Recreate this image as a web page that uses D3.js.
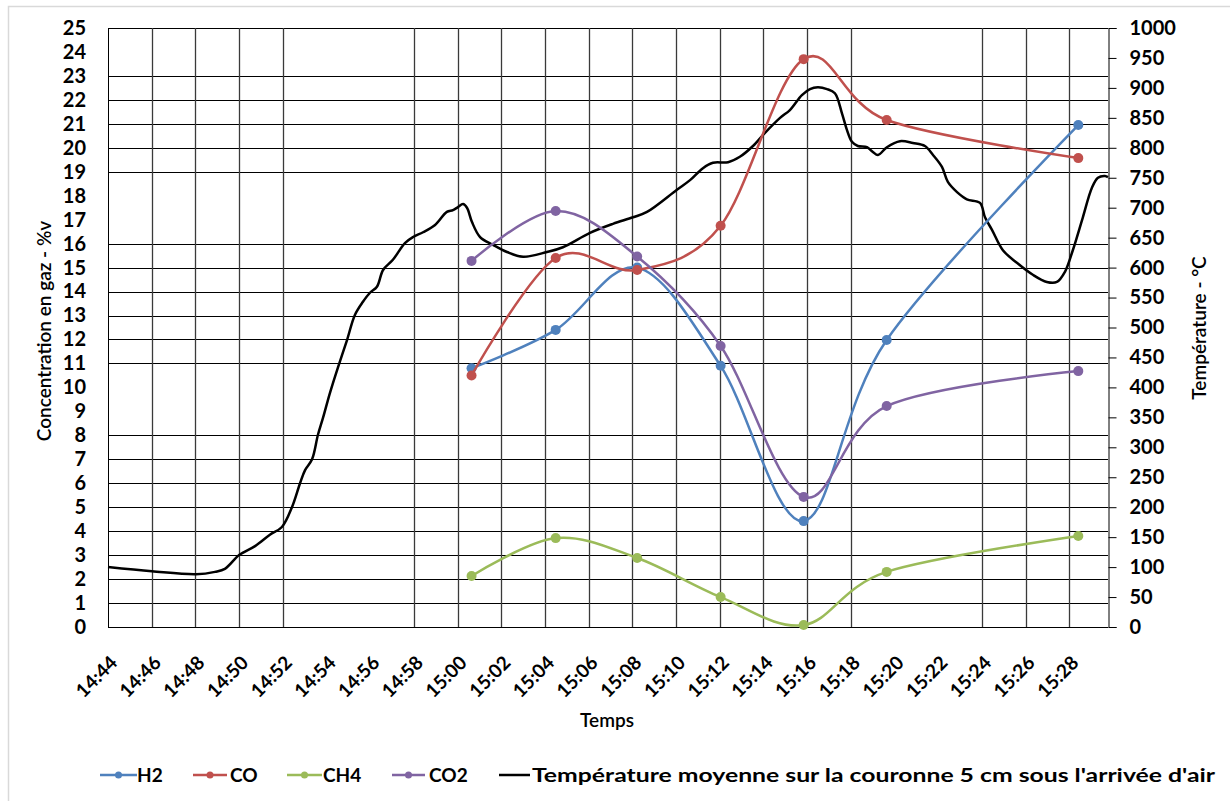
<!DOCTYPE html>
<html><head><meta charset="utf-8">
<script src="https://cdn.jsdelivr.net/npm/d3@7"></script>
<style>
html,body{margin:0;padding:0;background:#fff;}
svg text{font-family:Lato,"Open Sans",sans-serif;}
</style></head>
<body><svg id="c" width="1230" height="801"></svg>
<script>
// ---- data ----
const startTime = "14:44";
const xTickLabels = ["14:44","14:46","14:48","14:50","14:52","14:54","14:56","14:58","15:00","15:02","15:04","15:06","15:08","15:10","15:12","15:14","15:16","15:18","15:20","15:22","15:24","15:26","15:28"];
const xMaxMinutes = 45.77;               // axis end, minutes after 14:44
const vGridMinutes = [2,4,6,8,14,16,18,20,22,24,26,28,30,32,34,40,42,44];
const hGridValues = [1,2,3,4,5,6,7,8,11,12,13,14,15,16,19,20,21,22,23,25];
const leftTicks = d3.range(0,26);
const rightTicks = d3.range(0,1001,50);

// gas samples (minutes after 14:44)
const gasMinutes = [16.64, 20.49, 24.22, 28.04, 31.84, 35.64, 44.41];
const h2  = [10.8, 12.4, 15.0, 10.9, 4.42, 11.98, 20.95];
const co  = [10.5, 15.4, 14.9, 16.75, 23.7, 21.16, 19.57];
const ch4 = [2.13, 3.71, 2.88, 1.25, 0.08, 2.30, 3.80];
const co2 = [15.28, 17.36, 15.46, 11.73, 5.43, 9.22, 10.68];

// temperature (minutes after 14:44, °C)
const tempMinutes = [0,2.01,4.03,4.90,5.35,6.00,6.73,7.41,7.96,8.42,8.79,9.02,9.34,9.61,9.84,10.16,10.53,10.94,11.30,11.67,11.99,12.31,12.59,13.04,13.59,13.96,14.42,14.97,15.51,15.79,16.02,16.25,16.43,16.66,17.03,17.62,18.26,19.00,20.09,20.82,22.06,23.11,24.03,24.67,26.04,26.64,27.23,27.69,28.38,28.92,29.52,30.07,30.76,31.21,31.76,32.13,32.49,32.91,33.27,33.59,33.82,34.05,34.32,34.74,35.01,35.24,35.65,36.25,36.84,37.39,37.76,38.17,38.44,38.86,39.31,39.91,40.14,40.46,40.96,41.60,42.33,42.97,43.43,43.80,44.16,44.62,45.03,45.31,45.63,45.77];
const tempValues = [100,93,88,92,97,120,135,154,167,200,240,262,280,321,349,391,434,479,521,543,558,568,596,613,641,651,659,671,693,696,701,706,700,676,651,638,626,618,626,634,658,673,684,693,730,746,766,775,776,785,803,825,850,863,888,898,901,898,891,858,830,810,803,801,793,788,801,811,808,803,788,768,743,726,714,708,684,663,629,608,588,576,576,593,629,684,733,750,753,751];

const seriesNames = ["H2","CO","CH4","CO2"];
const seriesColors = ["#4F81BD","#C0504D","#9BBB59","#8064A2"];
const tempLabel = "Température moyenne sur la couronne 5 cm sous l'arrivée d'air";

// ---- layout ----
const svg = d3.select("#c");
const L = 108, R = 1108, T = 28, B = 627;
const x = d3.scaleLinear().domain([0, xMaxMinutes]).range([L, R]);
const yL = d3.scaleLinear().domain([0, 25]).range([B, T]);
const yR = d3.scaleLinear().domain([0, 1000]).range([B, T]);

// outer frame
svg.append("rect").attr("x",8.5).attr("y",6.5).attr("width",1240).attr("height",820)
  .attr("fill","none").attr("stroke","#d9d9d9").attr("stroke-width",1.5);

// grid
const g = svg.append("g");
g.selectAll(".hg").data(hGridValues).join("line")
  .attr("x1",L).attr("x2",R)
  .attr("y1",d=>Math.round(yL(d))+0.5).attr("y2",d=>Math.round(yL(d))+0.5)
  .attr("stroke","#000").attr("stroke-width",1);
g.selectAll(".vg").data(vGridMinutes).join("line")
  .attr("x1",d=>Math.round(x(d))+0.5).attr("x2",d=>Math.round(x(d))+0.5)
  .attr("y1",T).attr("y2",B)
  .attr("stroke","#3a3a3a").attr("stroke-width",1.3);

// axes lines
g.append("line").attr("x1",L+0.5).attr("x2",L+0.5).attr("y1",T).attr("y2",B+0.5).attr("stroke","#000");
g.append("line").attr("x1",L).attr("x2",R).attr("y1",B+0.5).attr("y2",B+0.5).attr("stroke","#000");

// left axis labels
const leftAxis = d3.axisLeft(yL).tickValues(leftTicks).tickSize(0).tickPadding(22).tickFormat(d3.format("d"));
const la = svg.append("g").attr("transform",`translate(${L},0)`).call(leftAxis);
la.select(".domain").remove();
la.selectAll("text").attr("font-size",20).attr("font-weight","bold").attr("fill","#000");

// right axis
const rightAxis = d3.axisRight(yR).tickValues(rightTicks).tickSize(8).tickPadding(13).tickFormat(d3.format("d"));
const ra = svg.append("g").attr("transform",`translate(${R+0.5},0)`).call(rightAxis);
ra.select(".domain").attr("stroke","#000");
ra.selectAll(".tick line").attr("stroke","#000");
ra.selectAll("text").attr("font-size",20).attr("font-weight","bold").attr("fill","#000");

// bottom axis labels (rotated)
const xTickVals = xTickLabels.map((d,i)=>i*2);
const bx = d3.axisBottom(x).tickValues(xTickVals).tickSize(0).tickFormat((d,i)=>xTickLabels[i]);
const ba = svg.append("g").attr("transform",`translate(0,${B})`).call(bx);
ba.select(".domain").remove();
ba.selectAll("text").attr("font-size",19).attr("font-weight","bold").attr("fill","#000")
  .attr("text-anchor","end").attr("dy",0).attr("y",0)
  .attr("transform","translate(10,37) rotate(-45)");

// axis titles
svg.append("text").attr("transform","translate(51,331) rotate(-90)").attr("text-anchor","middle")
  .attr("font-size",19).attr("font-weight",600).text("Concentration en gaz - %v");
svg.append("text").attr("transform","translate(1206,328) rotate(-90)").attr("text-anchor","middle")
  .attr("font-size",19).attr("font-weight",600).text("Température - °C");
svg.append("text").attr("x",607).attr("y",727).attr("text-anchor","middle")
  .attr("font-size",19).attr("font-weight",600).text("Temps");

// temperature line
const tData = tempMinutes.map((m,i)=>[m,tempValues[i]]);
svg.append("path").datum(tData)
  .attr("d", d3.line().x(d=>x(d[0])).y(d=>yR(d[1])).curve(d3.curveCatmullRom))
  .attr("fill","none").attr("stroke","#000").attr("stroke-width",2.5);

// gas series
const gasSeries = [h2,co,ch4,co2];
const gasLine = d3.line().x(d=>x(d[0])).y(d=>yL(d[1])).curve(d3.curveCardinal.tension(0));
gasSeries.forEach((vals,si)=>{
  const pts = gasMinutes.map((m,i)=>[m,vals[i]]);
  svg.append("path").datum(pts).attr("d",gasLine)
    .attr("fill","none").attr("stroke",seriesColors[si]).attr("stroke-width",2.5);
  svg.append("g").selectAll("circle").data(pts).join("circle")
    .attr("cx",d=>x(d[0])).attr("cy",d=>yL(d[1])).attr("r",5).attr("fill",seriesColors[si]);
});

// legend
const ly = 775;
const legendItems = [
  {name:"H2", color:seriesColors[0], x0:100, x1:137, tx:137},
  {name:"CO", color:seriesColors[1], x0:193, x1:227, tx:230},
  {name:"CH4", color:seriesColors[2], x0:287, x1:322, tx:323},
  {name:"CO2", color:seriesColors[3], x0:392, x1:425, tx:429}
];
legendItems.forEach(it=>{
  svg.append("line").attr("x1",it.x0).attr("x2",it.x1).attr("y1",ly).attr("y2",ly)
    .attr("stroke",it.color).attr("stroke-width",2.5);
  svg.append("circle").attr("cx",(it.x0+it.x1)/2).attr("cy",ly).attr("r",3.5).attr("fill",it.color);
  svg.append("text").attr("x",it.tx).attr("y",ly+7).attr("font-size",19).attr("font-weight","bold").text(it.name);
});
svg.append("line").attr("x1",499).attr("x2",530).attr("y1",ly).attr("y2",ly).attr("stroke","#000").attr("stroke-width",2.5);
svg.append("text").attr("x",532).attr("y",ly+7).attr("font-size",19).attr("font-weight","bold")
  .attr("textLength",683).attr("lengthAdjust","spacingAndGlyphs").text(tempLabel);
</script></body></html>
